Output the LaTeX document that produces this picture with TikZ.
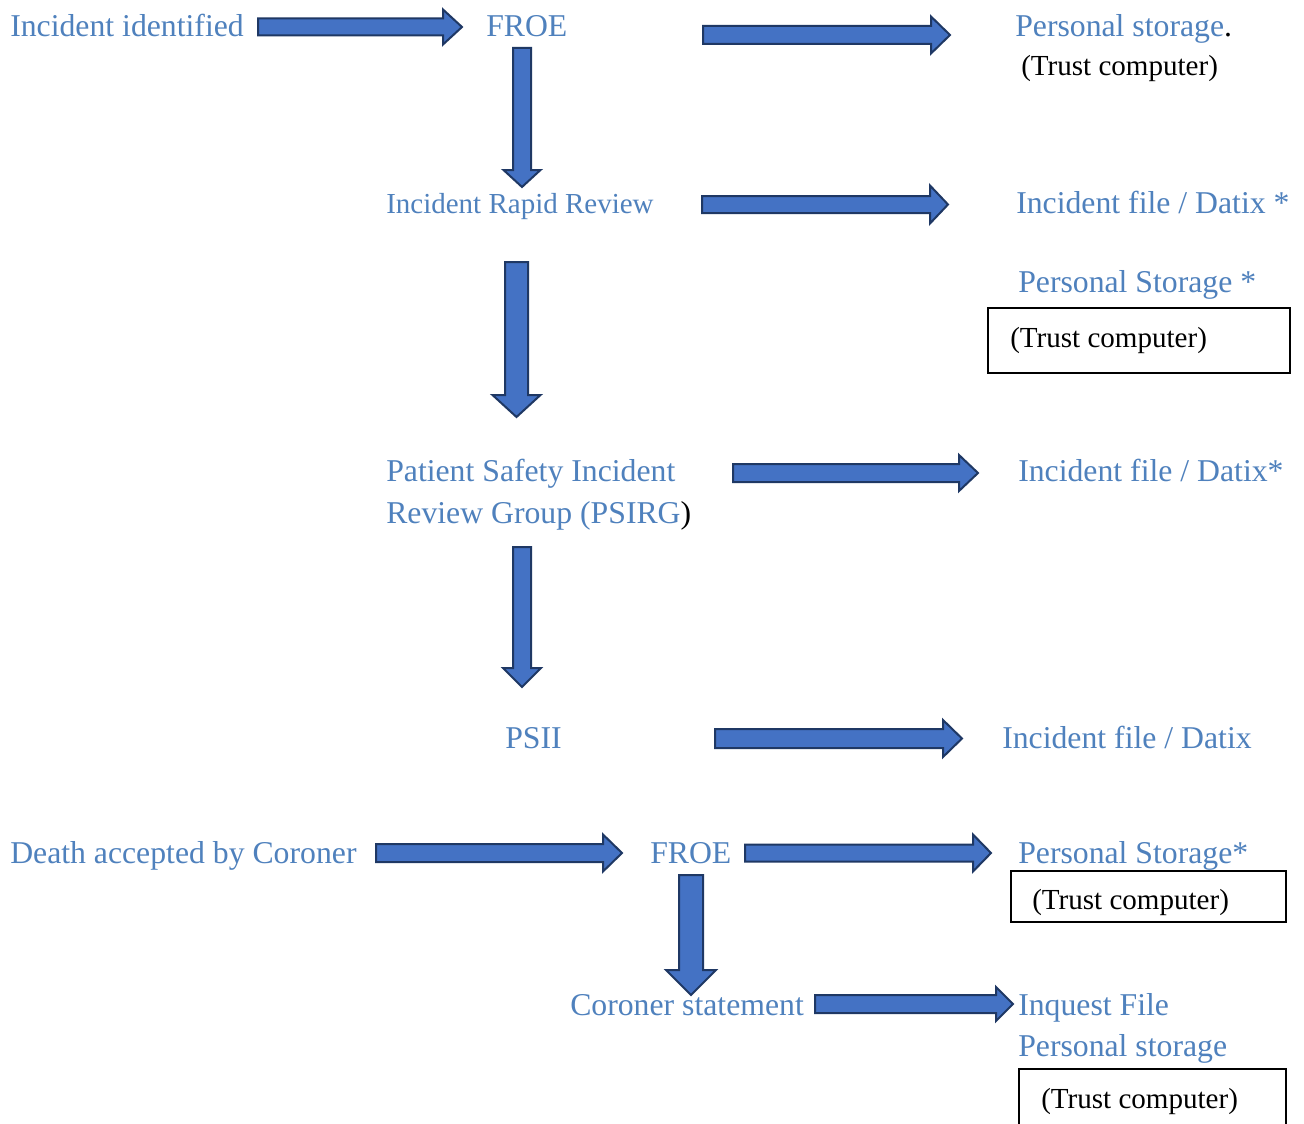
\documentclass[tikz,border=0pt]{standalone}
\usepackage{fontspec}
\setmainfont{Liberation Serif}
\usetikzlibrary{calc,fit}
\definecolor{txtblue}{HTML}{4F81BD}
\definecolor{arrfill}{HTML}{4472C4}
\definecolor{arrline}{HTML}{1F3864}
\tikzset{
  btxt/.style={text=txtblue, font=\fontsize{23.8}{28}\selectfont, inner sep=0pt, anchor=base west},
  bsmall/.style={btxt, font=\fontsize{21.75}{26}\selectfont},
  ktxt/.style={text=black, font=\fontsize{21.8}{26}\selectfont, inner sep=0pt, anchor=base west},
  barrow/.style={fill=arrfill, draw=arrline, line width=1.5pt, line join=miter},
  tbox/.style={draw=black, line width=0.8pt, inner sep=0pt},
}
% horizontal block arrow: start, end, shaft half, head half, head length (px)
\newcommand\harr[5]{\draw[barrow] let \p1=(#1), \p2=(#2) in
  (\x1,\y1+#3*0.75pt) -- (\x2-#5*0.75pt,\y1+#3*0.75pt) -- (\x2-#5*0.75pt,\y1+#4*0.75pt)
  -- (\x2,\y1) -- (\x2-#5*0.75pt,\y1-#4*0.75pt) -- (\x2-#5*0.75pt,\y1-#3*0.75pt)
  -- (\x1,\y1-#3*0.75pt) -- cycle;}
% vertical (downward) block arrow
\newcommand\varr[5]{\draw[barrow] let \p1=(#1), \p2=(#2) in
  (\x1-#3*0.75pt,\y1) -- (\x1-#3*0.75pt,\y2+#5*0.75pt) -- (\x1-#4*0.75pt,\y2+#5*0.75pt)
  -- (\x1,\y2) -- (\x1+#4*0.75pt,\y2+#5*0.75pt) -- (\x1+#3*0.75pt,\y2+#5*0.75pt)
  -- (\x1+#3*0.75pt,\y1) -- cycle;}
\begin{document}
\begin{tikzpicture}[x=0.75pt,y=-0.75pt]
\clip (0,0) rectangle (1304,1124);
\fill[white] (0,0) rectangle (1304,1124);

% texts
\node[btxt] (incid) at (10,37) {Incident identified};
\node[btxt] (froe1) at (486,37) {FROE};
\node[btxt] (pstor1) at (1015,37) {Personal storage\textcolor{black}{.}};
\node[ktxt] (trust1) at (1021,76) {(Trust computer)};
\node[bsmall] (irr) at (386,213) {Incident Rapid Review};
\node[btxt] (datix1) at (1016,213) {Incident file / Datix *};
\node[btxt] (pstor2) at (1018,292) {Personal Storage *};
\node[tbox, fit={(988,308) (1290,373)}] (box1) {};
\node[ktxt] (trust2) at (1010,347) {(Trust computer)};
\node[btxt] (psirg1) at (386,481) {Patient Safety Incident};
\node[btxt] (psirg2) at (386,523) {Review Group (PSIRG\textcolor{black}{)}};
\node[btxt] (datix2) at (1018,481) {Incident file / Datix*};
\node[btxt] (psii) at (505,748) {PSII};
\node[btxt] (datix3) at (1002,748) {Incident file / Datix};
\node[btxt] (death) at (10,863) {Death accepted by Coroner};
\node[btxt] (froe2) at (650,863) {FROE};
\node[btxt] (pstor3) at (1018,863) {Personal Storage*};
\node[tbox, fit={(1011,871) (1286,922)}] (box2) {};
\node[ktxt] (trust3) at (1032,909) {(Trust computer)};
\node[btxt] (coron) at (570,1015) {Coroner statement};
\node[btxt] (inq) at (1018,1015) {Inquest File};
\node[btxt] (pstor4) at (1018,1056) {Personal storage};
\node[tbox, fit={(1019,1069) (1286,1140)}] (box3) {};
\node[ktxt] (trust4) at (1041,1108) {(Trust computer)};

% arrow end points
\coordinate (a1s) at (258,27);    \coordinate (a1e) at (462,27);
\coordinate (a2s) at (703,35);    \coordinate (a2e) at (950,35);
\coordinate (a3s) at (522,48);    \coordinate (a3e) at (522,187);
\coordinate (a4s) at (702,204.5); \coordinate (a4e) at (948,204.5);
\coordinate (a5s) at (516.5,262); \coordinate (a5e) at (516.5,417);
\coordinate (a6s) at (733,473);   \coordinate (a6e) at (978,473);
\coordinate (a7s) at (522,547);   \coordinate (a7e) at (522,687);
\coordinate (a8s) at (715,738.5); \coordinate (a8e) at (962,738.5);
\coordinate (a9s) at (376,853);   \coordinate (a9e) at (622,853);
\coordinate (a10s) at (745,853);  \coordinate (a10e) at (991,853);
\coordinate (a11s) at (691,875);  \coordinate (a11e) at (691,995);
\coordinate (a12s) at (815,1004); \coordinate (a12e) at (1013,1004);

\harr{a1s}{a1e}{8.5}{17.5}{19}
\harr{a2s}{a2e}{9}{18.5}{19}
\varr{a3s}{a3e}{9}{18.5}{17}
\harr{a4s}{a4e}{8.5}{19}{18}
\varr{a5s}{a5e}{11.5}{24}{22}
\harr{a6s}{a6e}{9}{18}{19}
\varr{a7s}{a7e}{9}{19}{19}
\harr{a8s}{a8e}{9.5}{18.5}{19}
\harr{a9s}{a9e}{9}{18.5}{19}
\harr{a10s}{a10e}{8.5}{18.5}{18}
\varr{a11s}{a11e}{12}{25}{25}
\harr{a12s}{a12e}{9}{17}{17}
\end{tikzpicture}
\end{document}
